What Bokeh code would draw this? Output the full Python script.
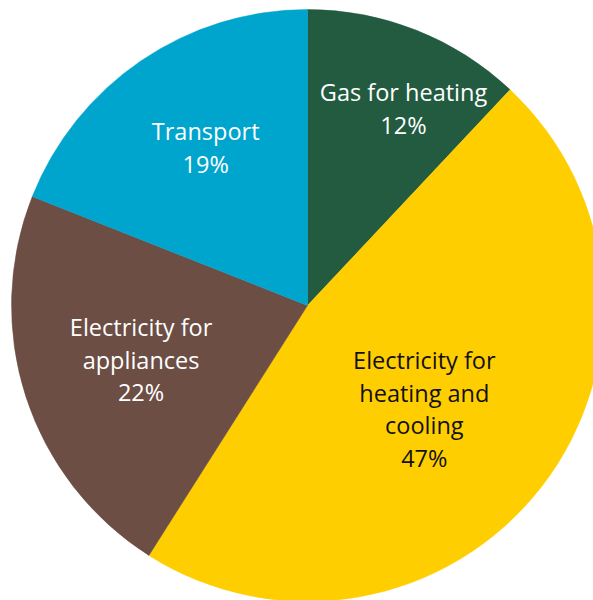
import math
from bokeh.plotting import figure
from bokeh.models import ColumnDataSource, Range1d
from bokeh.core.properties import value
from bokeh.embed import file_html
from bokeh.resources import INLINE

# --- data ---
categories = ["Gas for heating", "Electricity for heating and cooling",
              "Electricity for appliances", "Transport"]
shares = [12, 47, 22, 19]
label_lines = [["Gas for heating", "12%"],
               ["Electricity for", "heating and", "cooling", "47%"],
               ["Electricity for", "appliances", "22%"],
               ["Transport", "19%"]]

# --- style ---
colors = ["#225B40", "#FFCE00", "#6C4E45", "#00A5CD"]
text_colors = ["white", "#111111", "white", "white"]
label_radius = [219, 156, 175, 188]       # px from centre
label_nudge_deg = [-4.4, -3.7, 0.0, -1.4]  # angular nudge
R = 296
LINE_H = 32.5

total = sum(shares)
starts, ends, mids = [], [], []
cum = 0.0
for s in shares:
    a0 = math.pi / 2 - 2 * math.pi * cum / total
    cum += s
    a1 = math.pi / 2 - 2 * math.pi * cum / total
    starts.append(a1)
    ends.append(a0)
    mids.append((a0 + a1) / 2)

src = ColumnDataSource(dict(x=[0] * len(shares), y=[0] * len(shares),
                            start=starts, end=ends, color=colors,
                            cat=categories, share=shares))

p = figure(width=593, height=600, output_backend="svg", toolbar_location=None,
           x_range=Range1d(-307, 286), y_range=Range1d(-295, 305),
           min_border=0, min_border_left=0, min_border_right=0,
           min_border_top=0, min_border_bottom=0)
p.axis.visible = False
p.grid.visible = False
p.outline_line_color = None
p.background_fill_color = "white"
p.border_fill_color = "white"

p.wedge(x="x", y="y", radius=R, start_angle="start", end_angle="end",
        color="color", line_color="color", line_width=0.5, source=src)

tx, ty, tt, tc = [], [], [], []
for i, lines in enumerate(label_lines):
    ang = mids[i] + math.radians(label_nudge_deg[i])
    cx = label_radius[i] * math.cos(ang)
    cy = label_radius[i] * math.sin(ang)
    n = len(lines)
    for j, ln in enumerate(lines):
        tx.append(cx)
        ty.append(cy + ((n - 1) / 2 - j) * LINE_H)
        tt.append(ln)
        tc.append(text_colors[i])

tsrc = ColumnDataSource(dict(x=tx, y=ty, text=tt, color=tc))
p.text(x="x", y="y", text="text", text_color="color", source=tsrc,
       text_font=value("Open Sans"), text_font_size="23.5px",
       text_align="center", text_baseline="middle")

open("out.html", "w").write(file_html(p, INLINE))
